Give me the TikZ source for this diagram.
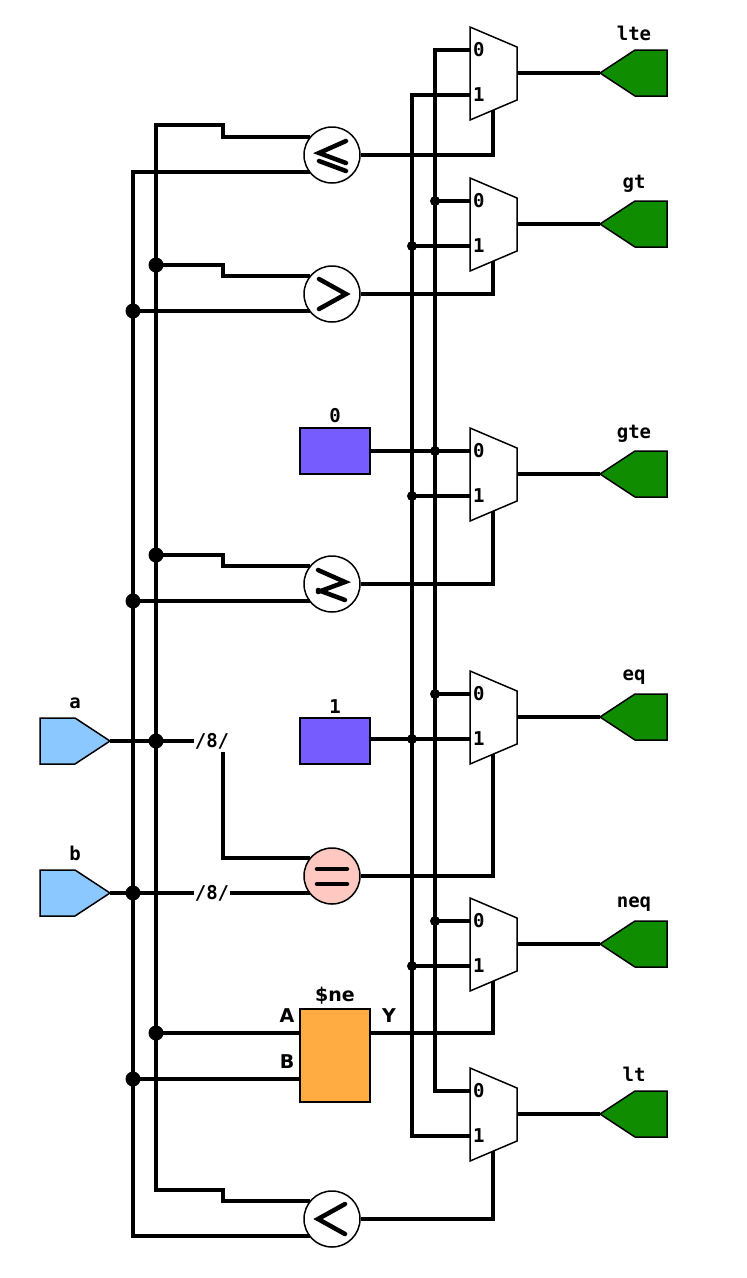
\documentclass[tikz,border=0pt]{standalone}
\usepackage{fontspec}
\setmainfont{DejaVu Sans}
\newfontfamily\monofont{DejaVu Sans Mono}
\usetikzlibrary{calc}

\definecolor{inport}{RGB}{138,200,255}
\definecolor{outport}{RGB}{16,140,0}
\definecolor{constbox}{RGB}{118,92,255}
\definecolor{eqfill}{RGB}{255,200,192}
\definecolor{nebox}{RGB}{255,172,66}

\tikzset{
	wire/.style={line width=3.5pt},
	cmp/.style={circle,draw,line width=1.5pt,minimum size=56pt,inner sep=0pt,fill=white},
	sym/.style={line width=4.5pt,line cap=round},
	lbl/.style={font=\monofont\bfseries\fontsize{19}{19}\selectfont,inner sep=1pt},
	pin/.style={font=\bfseries\fontsize{19}{19}\selectfont,inner sep=1pt},
	bigdot/.style={circle,fill,inner sep=0pt,minimum size=15pt},
	smalldot/.style={circle,fill,inner sep=0pt,minimum size=10pt},
}

% comparator: [fill] name, y, symbol path (relative to centre)
\newcommand\cmpat[4][white]{
	\node[cmp,fill=#1] (#2) at (332,#3) {};
	\draw[sym,shift={(#2.center)}] #4;
	\coordinate (#2-a) at (310,#3-18);
	\coordinate (#2-b) at (310,#3+17);
}
% mux: name, y of output
\newcommand\muxat[2]{
	\draw[line width=1.5pt,fill=white] (470,#2-46) -- (517,#2-26) -- (517,#2+27) -- (470,#2+47) -- cycle;
	\coordinate (#1-0) at (470,#2-23);
	\coordinate (#1-1) at (470,#2+22);
	\coordinate (#1-s) at (493,#2+37);
	\coordinate (#1-o) at (517,#2);
	\node[lbl,anchor=west] at (472,#2-23) {0};
	\node[lbl,anchor=west] at (472,#2+22) {1};
}
% output port: name, y, label
\newcommand\outport[3]{
	\draw[line width=1.5pt,fill=outport] (600,#2) -- (635,#2-23) -- (667,#2-23) -- (667,#2+23) -- (635,#2+23) -- cycle;
	\coordinate (#1) at (600,#2);
	\node[lbl] at (634,#2-40) {#3};
}

\begin{document}
\begin{tikzpicture}[x=1pt,y=-1pt]
	\useasboundingbox (0,0) rectangle (747,1278);

	% inputs
	\draw[line width=1.5pt,fill=inport] (40,718) -- (75,718) -- (110,741) -- (75,764) -- (40,764) -- cycle;
	\draw[line width=1.5pt,fill=inport] (40,870) -- (75,870) -- (110,893) -- (75,916) -- (40,916) -- cycle;
	\coordinate (a) at (110,741);
	\coordinate (b) at (110,893);
	\node[lbl] at (75,703) {a};
	\node[lbl] at (75,853) {b};

	% muxes
	\muxat{mlte}{73}
	\muxat{mgt}{224}
	\muxat{mgte}{474}
	\muxat{meq}{717}
	\muxat{mneq}{944}
	\muxat{mlt}{1114}

	% outputs
	\outport{olte}{73}{lte}
	\outport{ogt}{224}{gt}
	\outport{ogte}{474}{gte}
	\outport{oeq}{717}{eq}
	\outport{oneq}{944}{neq}
	\outport{olt}{1114}{lt}

	% comparators
	\cmpat{le}{155}{(14,-14) -- (-13,-2) -- (14,8) (-13,6) -- (14,16)}
	\cmpat{gt}{294}{(-13,-15) -- (14,0) -- (-13,15)}
	\cmpat{ge}{584}{(-14,-14) -- (13,-2) -- (-14,8) (-14,6) -- (13,16)}
	\cmpat[eqfill]{eq}{876}{(-15,-7) -- (15,-7) (-15,8) -- (15,8)}
	\cmpat{lt}{1219}{(13,-15) -- (-14,0) -- (13,15)}

	% constants
	\node[draw,line width=1.5pt,fill=constbox,minimum width=70pt,minimum height=46pt,inner sep=0pt] (c0) at (335,451) {};
	\node[lbl,above=3pt] at (c0.north) {0};
	\node[draw,line width=1.5pt,fill=constbox,minimum width=70pt,minimum height=46pt,inner sep=0pt] (c1) at (335,741) {};
	\node[lbl,above=3pt] at (c1.north) {1};

	% $ne cell
	\node[draw,line width=1.5pt,fill=nebox,minimum width=70pt,minimum height=93pt,inner sep=0pt] (ne) at (335,1055.5) {};
	\node[pin,above=3pt] at (ne.north) {\$ne};
	\node[pin] at (287,1016) {A};
	\node[pin] at (287,1062) {B};
	\node[pin] at (389,1016) {Y};

	% buses a and b
	\draw[wire] (le-a) -| (223,125) -| (156,1190) -| (223,0 |- lt-a) -- (lt-a);
	\draw[wire] (lt-b) -| (133,0 |- le-b) -- (le-b);
	\draw[wire] (156,265) -- (223,265) |- (gt-a);
	\draw[wire] (133,0 |- gt-b) -- (gt-b);
	\draw[wire] (156,555) -- (223,555) |- (ge-a);
	\draw[wire] (133,0 |- ge-b) -- (ge-b);
	\draw[wire] (156,1033) -- (ne.west |- 0,1033);
	\draw[wire] (133,1079) -- (ne.west |- 0,1079);
	\node[bigdot] at (156,265) {};
	\node[bigdot] at (133,0 |- gt-b) {};
	\node[bigdot] at (156,555) {};
	\node[bigdot] at (133,0 |- ge-b) {};
	\node[bigdot] at (156,1033) {};
	\node[bigdot] at (133,1079) {};

	% a and b to the equality
	\node[lbl] (wa) at (212,741) {/8/};
	\node[lbl] (wb) at (212,893) {/8/};
	\draw[wire] (a) -- (wa.west |- a);
	\draw[wire] (b) -- (wb.west |- b);
	\draw[wire] (223,752) |- (eq-a);
	\draw[wire] (wb.east |- eq-b) -- (eq-b);
	\node[bigdot] at (156,741) {};
	\node[bigdot] at (133,893) {};

	% constant lines
	\draw[wire] (mlte-0) -| (435,0 |- mlt-0) -- (mlt-0);
	\draw[wire] (mlte-1) -| (412,0 |- mlt-1) -- (mlt-1);
	\draw[wire] (c0) -- (mgte-0);
	\draw[wire] (c1.east |- meq-1) -- (meq-1);
	\draw[wire] (435,0 |- mgt-0) -- (mgt-0);
	\draw[wire] (412,0 |- mgt-1) -- (mgt-1);
	\draw[wire] (412,0 |- mgte-1) -- (mgte-1);
	\draw[wire] (435,0 |- meq-0) -- (meq-0);
	\draw[wire] (435,0 |- mneq-0) -- (mneq-0);
	\draw[wire] (412,0 |- mneq-1) -- (mneq-1);
	\foreach \m in {mgt,mgte,meq,mneq} \node[smalldot] at (435,0 |- \m-0) {};
	\foreach \m in {mgt,mgte,meq,mneq} \node[smalldot] at (412,0 |- \m-1) {};

	% selects
	\draw[wire] (le.east) -| (mlte-s);
	\draw[wire] (gt.east) -| (mgt-s);
	\draw[wire] (ge.east) -| (mgte-s);
	\draw[wire] (eq.east) -| (meq-s);
	\draw[wire] (ne.east |- 0,1033) -| (mneq-s);
	\draw[wire] (lt.east) -| (mlt-s);

	% mux outputs
	\draw[wire] (mlte-o) -- (olte);
	\draw[wire] (mgt-o) -- (ogt);
	\draw[wire] (mgte-o) -- (ogte);
	\draw[wire] (meq-o) -- (oeq);
	\draw[wire] (mneq-o) -- (oneq);
	\draw[wire] (mlt-o) -- (olt);
\end{tikzpicture}
\end{document}
